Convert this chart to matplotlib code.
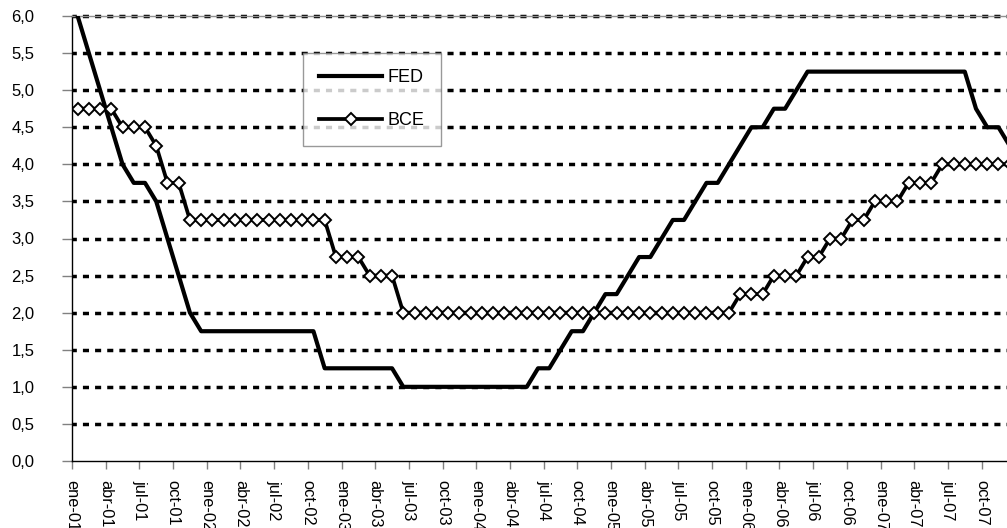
import matplotlib
matplotlib.use("Agg")
import matplotlib.pyplot as plt
import numpy as np

# monthly rates, ene-01 .. dic-07
fed = [
    6.0, 5.5, 5.0, 4.5, 4.0, 3.75, 3.75, 3.5, 3.0, 2.5, 2.0, 1.75,
    1.75, 1.75, 1.75, 1.75, 1.75, 1.75, 1.75, 1.75, 1.75, 1.75, 1.25, 1.25,
    1.25, 1.25, 1.25, 1.25, 1.25, 1.0, 1.0, 1.0, 1.0, 1.0, 1.0, 1.0,
    1.0, 1.0, 1.0, 1.0, 1.0, 1.25, 1.25, 1.5, 1.75, 1.75, 2.0, 2.25,
    2.25, 2.5, 2.75, 2.75, 3.0, 3.25, 3.25, 3.5, 3.75, 3.75, 4.0, 4.25,
    4.5, 4.5, 4.75, 4.75, 5.0, 5.25, 5.25, 5.25, 5.25, 5.25, 5.25, 5.25,
    5.25, 5.25, 5.25, 5.25, 5.25, 5.25, 5.25, 5.25, 4.75, 4.5, 4.5, 4.25,
]
bce = [
    4.75, 4.75, 4.75, 4.75, 4.5, 4.5, 4.5, 4.25, 3.75, 3.75, 3.25, 3.25,
    3.25, 3.25, 3.25, 3.25, 3.25, 3.25, 3.25, 3.25, 3.25, 3.25, 3.25, 2.75,
    2.75, 2.75, 2.5, 2.5, 2.5, 2.0, 2.0, 2.0, 2.0, 2.0, 2.0, 2.0,
    2.0, 2.0, 2.0, 2.0, 2.0, 2.0, 2.0, 2.0, 2.0, 2.0, 2.0, 2.0,
    2.0, 2.0, 2.0, 2.0, 2.0, 2.0, 2.0, 2.0, 2.0, 2.0, 2.0, 2.25,
    2.25, 2.25, 2.5, 2.5, 2.5, 2.75, 2.75, 3.0, 3.0, 3.25, 3.25, 3.5,
    3.5, 3.5, 3.75, 3.75, 3.75, 4.0, 4.0, 4.0, 4.0, 4.0, 4.0, 4.0,
]
tick_labels = [
    "ene-01", "abr-01", "jul-01", "oct-01",
    "ene-02", "abr-02", "jul-02", "oct-02",
    "ene-03", "abr-03", "jul-03", "oct-03",
    "ene-04", "abr-04", "jul-04", "oct-04",
    "ene-05", "abr-05", "jul-05", "oct-05",
    "ene-06", "abr-06", "jul-06", "oct-06",
    "ene-07", "abr-07", "jul-07", "oct-07",
]

plt.rcParams["font.family"] = ["Liberation Sans", "DejaVu Sans"]

fig = plt.figure(figsize=(10.07, 5.28), dpi=100)
ax = fig.add_axes([72 / 1007, 67 / 528, 1 - 72 / 1007, 445 / 528])

x = np.arange(len(fed)) + 0.5

for yv in np.arange(0.5, 6.01, 0.5):
    ax.axhline(yv, color="black", lw=2.5, linestyle=(0.5, (1.75, 1.75)),
               zorder=1, clip_on=False)

ax.plot(x, fed, color="black", lw=3.0, label="FED", zorder=3)
ax.plot(x, bce, color="black", lw=2.7, marker="D", markersize=6,
        markerfacecolor="white", markeredgecolor="black", markeredgewidth=1.4,
        label="BCE", zorder=4)

ax.set_xlim(0, 83.26)
ax.set_ylim(0, 6)

ax.set_yticks(np.arange(0, 6.01, 0.5))
ax.set_yticklabels([f"{v:.1f}".replace(".", ",") for v in np.arange(0, 6.01, 0.5)])
ax.set_xticks(np.arange(len(tick_labels)) * 3)
ax.set_xticklabels(tick_labels, rotation=-90)

ax.tick_params(axis="y", length=7, width=1, color="#808080", pad=20, labelsize=12)
ax.tick_params(axis="x", length=6, width=1, color="#808080", pad=8, labelsize=11.8)
for lab in ax.get_xticklabels():
    lab.set_verticalalignment("top")

ax.spines["right"].set_visible(False)
ax.spines["top"].set_color("#909090")
ax.spines["top"].set_linewidth(1)
ax.spines["left"].set_linewidth(1)
ax.spines["bottom"].set_linewidth(1)

leg = ax.legend(loc="upper left", bbox_to_anchor=(0.247, 0.917), frameon=True,
                fancybox=False, edgecolor="#808080", handlelength=3.5,
                handletextpad=0.3, labelspacing=1.45, borderpad=0.9,
                borderaxespad=0, prop={"size": 13})
leg.get_frame().set_linewidth(1)
leg.set_zorder(5)

fig.savefig("out.png", dpi=100)
